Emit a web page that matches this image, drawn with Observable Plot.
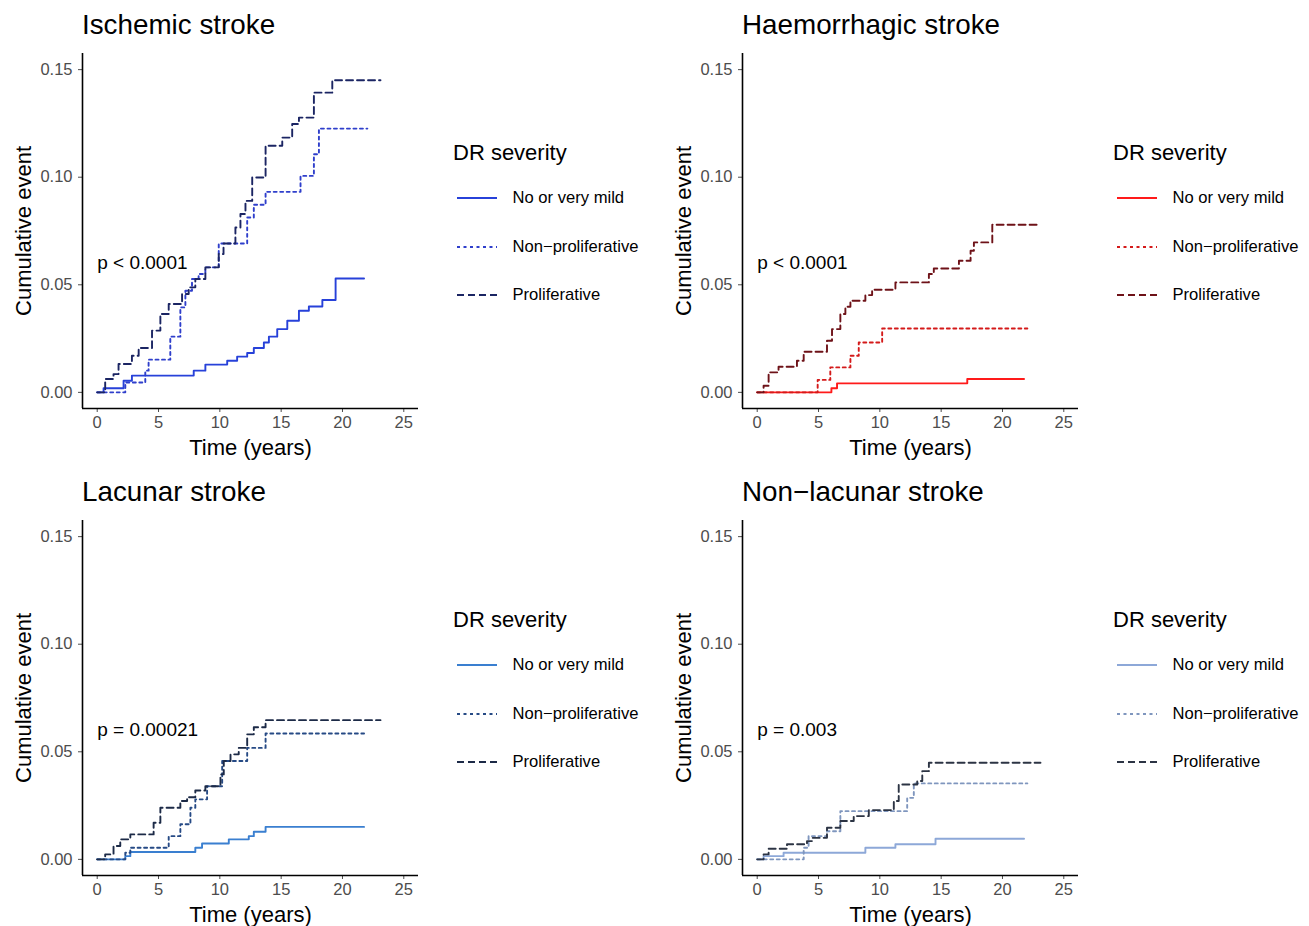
<!DOCTYPE html>
<html><head><meta charset="utf-8">
<script src="https://cdn.jsdelivr.net/npm/d3@7"></script>
<script src="https://cdn.jsdelivr.net/npm/@observablehq/plot@0.6"></script>
<style>
body{margin:0;background:#fff;font-family:"Liberation Sans",Arial,sans-serif;}
#root{position:relative;width:1309px;height:926px;overflow:hidden;background:#fff;}
.panel{position:absolute;width:660px;height:467px;}
.title{position:absolute;left:82px;top:11.2px;font-size:27.8px;line-height:27.8px;color:#000;white-space:nowrap;}
.ltitle{position:absolute;left:453px;top:141.9px;font-size:22px;line-height:22px;color:#000;white-space:nowrap;}
.litem{position:absolute;left:512.5px;font-size:16.6px;line-height:20px;color:#000;white-space:nowrap;}
</style></head><body><div id="root"></div>
<script>
// ---------- data ----------
const groups = ["No or very mild", "Non\u2212proliferative", "Proliferative"];
const panelTitles = ["Ischemic stroke", "Haemorrhagic stroke", "Lacunar stroke", "Non\u2212lacunar stroke"];
const pValues = ["p < 0.0001", "p < 0.0001", "p = 0.00021", "p = 0.003"];
const legendTitle = "DR severity";
const xTicks = [0, 5, 10, 15, 20, 25];
const yTicks = [0, 0.05, 0.10, 0.15];
const xLabel = "Time (years)";
const yLabel = "Cumulative event";

// Ischemic stroke
const isch_none_t = [0, 0.52, 2.15, 2.83, 7.87, 8.82, 10.6, 11.41, 12.23, 12.77, 13.59, 14.0, 14.68, 15.5, 16.45, 17.26, 18.36, 19.44, 21.76];
const isch_none_v = [0, 0.0019, 0.0054, 0.0078, 0.0101, 0.0129, 0.0147, 0.0166, 0.0183, 0.0206, 0.0232, 0.0259, 0.0294, 0.0333, 0.0379, 0.0399, 0.0429, 0.0529, 0.0529];
const isch_non_t = [0, 2.29, 3.92, 4.19, 5.96, 6.78, 7.19, 7.73, 8.27, 8.82, 9.91, 12.23, 12.77, 13.73, 16.58, 17.67, 18.08, 22.03];
const isch_non_v = [0, 0.0046, 0.0101, 0.0152, 0.0259, 0.0395, 0.0472, 0.0527, 0.0550, 0.0581, 0.0692, 0.0813, 0.0872, 0.0932, 0.1006, 0.1107, 0.1226, 0.1226];
const isch_pro_t = [0, 0.65, 1.33, 1.74, 2.83, 3.38, 4.47, 5.15, 5.83, 6.92, 7.46, 8.0, 8.82, 9.91, 10.3, 11.27, 11.68, 12.09, 12.64, 13.73, 15.09, 15.9, 16.45, 17.67, 19.17, 23.1];
const isch_pro_v = [0, 0.0062, 0.0085, 0.0132, 0.0170, 0.0206, 0.0287, 0.0364, 0.0411, 0.0457, 0.0488, 0.0527, 0.0581, 0.0643, 0.0692, 0.0766, 0.0829, 0.0890, 0.0999, 0.1146, 0.1184, 0.1247, 0.1277, 0.1393, 0.1451, 0.1451];

// Haemorrhagic stroke
const haem_none_t = [0, 6.05, 6.51, 17.13, 21.76];
const haem_none_v = [0, 0.0019, 0.0042, 0.0062, 0.0062];
const haem_non_t = [0, 4.93, 5.96, 7.6, 8.28, 10.19, 22.03];
const haem_non_v = [0, 0.0058, 0.0116, 0.0170, 0.0232, 0.0297, 0.0297];
const haem_pro_t = [0, 0.52, 0.93, 1.74, 3.24, 3.79, 5.69, 6.1, 6.78, 7.19, 7.6, 8.82, 9.37, 11.27, 14.0, 14.4, 16.45, 17.4, 17.67, 19.17, 22.98];
const haem_pro_v = [0, 0.0031, 0.0093, 0.0119, 0.0147, 0.0189, 0.0240, 0.0294, 0.0364, 0.0398, 0.0426, 0.0452, 0.0477, 0.0511, 0.0550, 0.0576, 0.0612, 0.0658, 0.0697, 0.0779, 0.0779];

// Lacunar stroke
const lac_none_t = [0, 2.29, 2.7, 8.0, 8.55, 10.73, 12.36, 12.77, 13.73, 21.76];
const lac_none_v = [0, 0.0015, 0.0034, 0.0054, 0.0074, 0.0093, 0.0108, 0.0128, 0.0151, 0.0151];
const lac_non_t = [0, 2.29, 2.7, 5.83, 6.78, 7.6, 8.0, 8.96, 10.19, 12.23, 13.73, 21.76];
const lac_non_v = [0, 0.0031, 0.0054, 0.0108, 0.0163, 0.0240, 0.0279, 0.0340, 0.0457, 0.0518, 0.0585, 0.0585];
const lac_pro_t = [0, 0.65, 1.33, 1.88, 2.7, 4.6, 5.15, 6.78, 7.33, 8.0, 8.82, 10.05, 10.32, 10.87, 11.54, 12.23, 12.77, 13.73, 23.1];
const lac_pro_v = [0, 0.0023, 0.0062, 0.0093, 0.0116, 0.0170, 0.0240, 0.0271, 0.0289, 0.0320, 0.0340, 0.0395, 0.0457, 0.0488, 0.0518, 0.0581, 0.0614, 0.0647, 0.0647];

// Non-lacunar stroke
const nlac_none_t = [0, 0.52, 2.15, 8.82, 11.27, 14.54, 21.76];
const nlac_none_v = [0, 0.0015, 0.0031, 0.0054, 0.0070, 0.0096, 0.0096];
const nlac_non_t = [0, 3.79, 4.19, 5.69, 6.78, 12.23, 12.77, 22.03];
const nlac_non_v = [0, 0.0054, 0.0108, 0.0131, 0.0224, 0.0286, 0.0353, 0.0353];
const nlac_pro_t = [0, 0.52, 0.93, 2.43, 4.06, 4.47, 5.69, 6.78, 7.87, 9.1, 11.14, 11.54, 13.05, 13.46, 14.0, 23.1];
const nlac_pro_v = [0, 0.0023, 0.0049, 0.0070, 0.0085, 0.0100, 0.0147, 0.0178, 0.0201, 0.0229, 0.0271, 0.0348, 0.0364, 0.0410, 0.0449, 0.0449];

const panelColors = [
  ["#2741D9", "#2F3FCB", "#1B2563"],
  ["#FF1A1A", "#D41A1A", "#6E1218"],
  ["#3A7FD0", "#264A85", "#1C2A47"],
  ["#8DA8D8", "#7F96BE", "#2C3444"]
];
const dashes = [null, "3,3.5", "7,4"];

// ---------- build ----------
const panelSeries = [
  [[isch_none_t, isch_none_v], [isch_non_t, isch_non_v], [isch_pro_t, isch_pro_v]],
  [[haem_none_t, haem_none_v], [haem_non_t, haem_non_v], [haem_pro_t, haem_pro_v]],
  [[lac_none_t, lac_none_v], [lac_non_t, lac_non_v], [lac_pro_t, lac_pro_v]],
  [[nlac_none_t, nlac_none_v], [nlac_non_t, nlac_non_v], [nlac_pro_t, nlac_pro_v]]
];
const offsets = [[0, 0], [660, 0], [0, 467], [660, 467]];
const xDomain = [-1.2, 26.2];
const yDomain = [-0.0075, 0.1575];

const root = document.getElementById("root");

panelSeries.forEach((series, i) => {
  const div = document.createElement("div");
  div.className = "panel";
  div.style.left = offsets[i][0] + "px";
  div.style.top = offsets[i][1] + "px";
  root.appendChild(div);

  const lineMarks = series.map(([ts, vs], g) =>
    Plot.line(ts.map((t, k) => ({t, v: vs[k]})), {
      x: "t", y: "v", curve: "step-after",
      stroke: panelColors[i][g], strokeWidth: 1.9,
      strokeDasharray: dashes[g] || undefined
    })
  );

  const svg = Plot.plot({
    width: 440, height: 463,
    marginLeft: 82, marginRight: 22, marginTop: 53, marginBottom: 55,
    style: {fontFamily: '"Liberation Sans", Arial, sans-serif', fontSize: "16.5px", background: "transparent", overflow: "visible", position: "absolute", left: "0px", top: "0px"},
    x: {domain: xDomain},
    y: {domain: yDomain},
    marks: [
      Plot.axisX({ticks: xTicks, tickSize: 4, tickPadding: 4, label: null, tickFormat: d => String(d), color: "#4D4D4D", fontSize: 16.5}),
      Plot.axisY({ticks: yTicks, tickSize: 4, tickPadding: 6, label: null, tickFormat: d3.format(".2f"), color: "#4D4D4D", fontSize: 16.5}),
      Plot.ruleX([xDomain[0]], {stroke: "#000", strokeWidth: 1.6}),
      Plot.ruleY([yDomain[0]], {stroke: "#000", strokeWidth: 1.6}),
      ...lineMarks,
      Plot.text([pValues[i]], {x: 0, y: 0.06, text: d => d, textAnchor: "start", fontSize: 19, fill: "#000"}),
      Plot.text([xLabel], {frameAnchor: "bottom", text: d => d, dy: 46.3, lineAnchor: "bottom", fontSize: 22, fill: "#000"}),
      Plot.text([yLabel], {frameAnchor: "left", text: d => d, dx: -52, rotate: -90, textAnchor: "middle", lineAnchor: "bottom", fontSize: 22, fill: "#000"})
    ]
  });
  div.appendChild(svg);

  const title = document.createElement("div");
  title.className = "title";
  title.textContent = panelTitles[i];
  div.appendChild(title);

  const lt = document.createElement("div");
  lt.className = "ltitle";
  lt.textContent = legendTitle;
  div.appendChild(lt);

  const itemY = [198.3, 246.6, 295];
  groups.forEach((g, k) => {
    const key = document.createElementNS("http://www.w3.org/2000/svg", "svg");
    key.setAttribute("width", "40");
    key.setAttribute("height", "6");
    key.style.position = "absolute";
    key.style.left = "457px";
    key.style.top = (itemY[k] - 3) + "px";
    const ln = document.createElementNS("http://www.w3.org/2000/svg", "line");
    ln.setAttribute("x1", "0"); ln.setAttribute("x2", "40");
    ln.setAttribute("y1", "3"); ln.setAttribute("y2", "3");
    ln.setAttribute("stroke", panelColors[i][k]);
    ln.setAttribute("stroke-width", "1.9");
    if (dashes[k]) ln.setAttribute("stroke-dasharray", dashes[k]);
    key.appendChild(ln);
    div.appendChild(key);
    const lab = document.createElement("div");
    lab.className = "litem";
    lab.style.top = (itemY[k] - 10) + "px";
    lab.textContent = g;
    div.appendChild(lab);
  });
});
</script></body></html>
